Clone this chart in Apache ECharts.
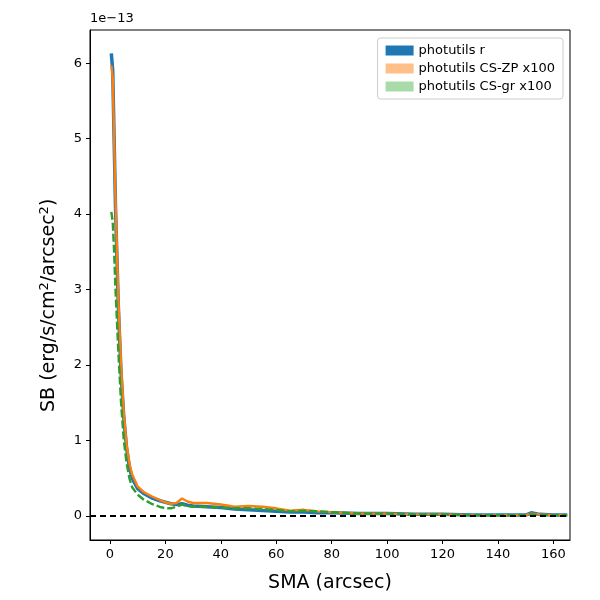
<!doctype html>
<html lang="en">
  <head>
    <meta charset="UTF-8" />
    <title>SB profile</title>
    <script src="https://cdn.jsdelivr.net/npm/echarts/dist/echarts.min.js"></script>
    <style>
      body { margin: 0; padding: 0; }
      .main { width: 600px; height: 600px; }
    </style>
  </head>
  <body>
    <div class="main"></div>
    <script>
      // SMA (arcsec)
      const sma = [0.5, 1, 1.5, 2, 3, 4, 5, 6, 7, 8, 10, 12, 15, 18, 20, 22, 24, 26, 28, 30, 35, 40, 45, 50, 55, 60, 65, 70, 75, 80, 90, 100, 110, 120, 130, 140, 150, 152, 155, 160, 165];
      // SB in units of 1e-13
      const sbR = [6.13, 5.9, 5, 4.1, 2.8, 1.9, 1.3, 0.9, 0.65, 0.5, 0.36, 0.3, 0.24, 0.2, 0.18, 0.16, 0.15, 0.16, 0.14, 0.13, 0.12, 0.11, 0.09, 0.08, 0.07, 0.06, 0.05, 0.05, 0.04, 0.04, 0.03, 0.03, 0.02, 0.02, 0.01, 0.01, 0.01, 0.04, 0.02, 0.01, 0.01];
      const sbZP = [5.97, 5.8, 5.0, 4.2, 2.9, 2.0, 1.35, 0.95, 0.7, 0.55, 0.39, 0.32, 0.26, 0.21, 0.18, 0.16, 0.17, 0.23, 0.19, 0.17, 0.17, 0.15, 0.12, 0.13, 0.12, 0.1, 0.07, 0.08, 0.06, 0.05, 0.03, 0.03, 0.02, 0.02, 0.01, 0.01, 0.01, 0.03, 0.02, 0.01, 0.01];
      const sbGR = [4.03, 3.9, 3.5, 3.0, 2.2, 1.5, 1.0, 0.7, 0.5, 0.38, 0.28, 0.22, 0.16, 0.12, 0.1, 0.1, 0.12, 0.15, 0.13, 0.12, 0.12, 0.11, 0.1, 0.1, 0.09, 0.08, 0.06, 0.07, 0.06, 0.05, 0.03, 0.03, 0.02, 0.02, 0.01, 0.01, 0.01, 0.02, 0.01, 0.01, 0.01];
      const xTicks = [0, 20, 40, 60, 80, 100, 120, 140, 160];
      const yTicks = [0, 1, 2, 3, 4, 5, 6];

      const pairs = (ys) => sma.map((x, i) => [x, ys[i]]);
      const font = "DejaVu Sans";

      const myChart = echarts.init(document.querySelector(".main"));
      const option = {
        animation: false,
        textStyle: { fontFamily: font },
        grid: { left: 90, right: 30, top: 30, bottom: 60 },
        legend: {
          orient: "vertical",
          right: 37,
          top: 38,
          padding: [6, 8, 6, 8],
          itemGap: 5,
          itemWidth: 28,
          itemHeight: 10,
          borderColor: "#ccc",
          borderWidth: 1,
          borderRadius: 3,
          textStyle: { fontSize: 13, color: "#000", fontFamily: font },
          data: [
            { name: "photutils r", icon: "rect", itemStyle: { color: "#1f77b4" } },
            { name: "photutils CS-ZP x100", icon: "rect", itemStyle: { color: "#ffbf86" } },
            { name: "photutils CS-gr x100", icon: "rect", itemStyle: { color: "#a8dba8" } },
          ],
        },
        xAxis: {
          type: "value",
          min: -7.2,
          max: 166,
          name: "SMA (arcsec)",
          nameLocation: "middle",
          nameGap: 34,
          nameTextStyle: { fontSize: 19, color: "#000", fontFamily: font },
          splitLine: { show: false },
          axisLine: { onZero: false, lineStyle: { color: "#000" } },
          axisTick: { customValues: xTicks, length: 4, lineStyle: { color: "#000" } },
          axisLabel: { customValues: xTicks, color: "#000", fontSize: 13 },
        },
        yAxis: {
          type: "value",
          min: -0.32,
          max: 6.44,
          splitLine: { show: false },
          axisLine: { show: true, onZero: false, lineStyle: { color: "#000" } },
          axisTick: { show: true, length: 4, customValues: yTicks, lineStyle: { color: "#000" } },
          axisLabel: { customValues: yTicks, color: "#000", fontSize: 13 },
        },
        graphic: [
          {
            type: "rect",
            shape: { x: 90, y: 30, width: 480, height: 510 },
            style: { fill: "none", stroke: "#000", lineWidth: 1 },
            silent: true,
          },
          {
            type: "text",
            left: 90,
            top: 12,
            style: { text: "1e\u221213", fontSize: 13, fill: "#000", fontFamily: font },
          },
          {
            type: "text",
            x: 38,
            y: 412,
            rotation: Math.PI / 2,
            style: {
              text: "{n|SB (erg/s/cm}{s|2}{n|/arcsec}{s|2}{n|)}",
              rich: {
                n: { fontSize: 19, fill: "#000", fontFamily: font, verticalAlign: "bottom" },
                s: { fontSize: 13, fill: "#000", fontFamily: font, verticalAlign: "top", padding: [0, 0, 8, 0] },
              },
            },
          },
        ],
        series: [
          {
            name: "photutils r",
            type: "line",
            data: pairs(sbR),
            showSymbol: false,
            lineStyle: { color: "#1f77b4", width: 3.5 },
            itemStyle: { color: "#1f77b4" },
            markLine: {
              silent: true,
              symbol: "none",
              label: { show: false },
              lineStyle: { color: "#000", type: [6, 4], width: 1.8 },
              data: [{ yAxis: 0 }],
            },
            z: 2,
          },
          {
            name: "photutils CS-ZP x100",
            type: "line",
            data: pairs(sbZP),
            showSymbol: false,
            lineStyle: { color: "#ff7f0e", width: 2.4 },
            itemStyle: { color: "#ff7f0e" },
            z: 3,
          },
          {
            name: "photutils CS-gr x100",
            type: "line",
            data: pairs(sbGR),
            showSymbol: false,
            lineStyle: { color: "#2ca02c", width: 2.4, type: [8, 3] },
            itemStyle: { color: "#2ca02c" },
            z: 4,
          },
        ],
      };
      myChart.setOption(option);
    </script>
  </body>
</html>
